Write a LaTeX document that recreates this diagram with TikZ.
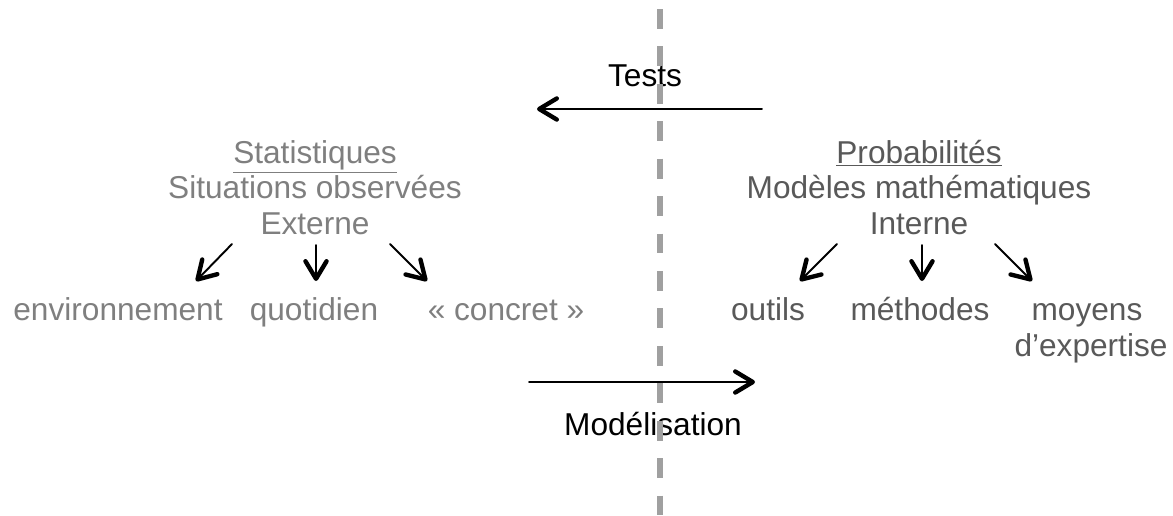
\documentclass[tikz,border=0pt]{standalone}
\usepackage{fontspec}
\setmainfont{Liberation Sans}
\usepackage{xcolor}
\usepackage{tikz}
\usetikzlibrary{arrows.meta}
\definecolor{statgray}{RGB}{127,127,127}
\definecolor{probgray}{RGB}{89,89,89}
\definecolor{sepgray}{RGB}{160,160,160}
\tikzset{stat/.style={text=statgray,anchor=base,inner sep=0pt},
         prob/.style={text=probgray,anchor=base,inner sep=0pt},
         label/.style={text=black,anchor=base,inner sep=0pt},
         fleche/.style={line width=1.1pt,line cap=round,
           -{Straight Barb[length=10pt,width=12pt,line width=2.5pt,round]}}}

\begin{document}
\begin{tikzpicture}[x=0.02cm,y=-0.02cm,font=\fontsize{18pt}{20pt}\selectfont]
    \useasboundingbox (0,0) rectangle (1173,515);

    % statistics side
    \node[stat] (stat) at (315,163) {\underline{Statistiques}};
    \node[stat] (obs) at (315,198) {Situations observées};
    \node[stat] (ext) at (315,234) {Externe};
    \node[stat] (env) at (118,320) {environnement};
    \node[stat] (quo) at (314,320) {quotidien};
    \node[stat] (con) at (506,320) {« concret »};

    % probability side
    \node[prob] (prob) at (919,163) {\underline{Probabilités}};
    \node[prob] (mod) at (919,198) {Modèles mathématiques};
    \node[prob] (int) at (919,234) {Interne};
    \node[prob] (out) at (768,320) {outils};
    \node[prob] (met) at (920,320) {méthodes};
    \node[prob] (moy) at (1087,320) {moyens};
    \node[prob] (exp) at (1091,356) {d’expertise};

    % arrow ends
    \coordinate (ext1) at (232,244);
    \coordinate (env1) at (196,281);
    \coordinate (ext2) at (316,245);
    \coordinate (quo1) at (316,281);
    \coordinate (ext3) at (390,244);
    \coordinate (con1) at (427,281);
    \coordinate (int1) at (837,244);
    \coordinate (out1) at (800,281);
    \coordinate (int2) at (922,245);
    \coordinate (met1) at (922,281);
    \coordinate (int3) at (995,244);
    \coordinate (moy1) at (1032,281);

    \draw[fleche] (ext1) -- (env1);
    \draw[fleche] (ext2) -- (quo1);
    \draw[fleche] (ext3) -- (con1);
    \draw[fleche] (int1) -- (out1);
    \draw[fleche] (int2) -- (met1);
    \draw[fleche] (int3) -- (moy1);

    % tests and modelling
    \node[label] (tests) at (645,86) {Tests};
    \coordinate (testsA) at (762,109);
    \coordinate (testsB) at (537,109);
    \draw[fleche] (testsA) -- (testsB);

    \node[label] (modl) at (653,435) {Modélisation};
    \coordinate (modA) at (529,382);
    \coordinate (modB) at (755,382);
    \draw[fleche] (modA) -- (modB);

    % separator
    \coordinate (sepTop) at (660,9);
    \coordinate (sepBot) at (660,520);
    \draw[sepgray,line width=3.4pt,dash pattern=on 11.3pt off 10pt] (sepTop) -- (sepBot);
\end{tikzpicture}
\end{document}
